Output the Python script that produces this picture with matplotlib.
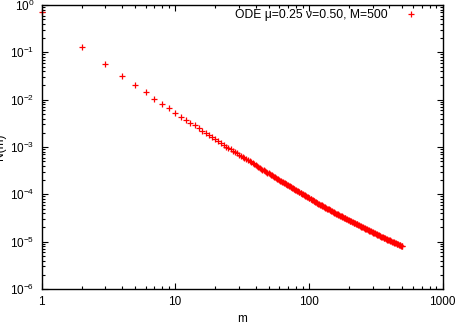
import matplotlib
matplotlib.use("Agg")
import matplotlib.pyplot as plt
from matplotlib.ticker import LogLocator, NullFormatter

plt.rcParams['font.family'] = ['Liberation Sans', 'DejaVu Sans']
plt.rcParams['mathtext.fontset'] = 'custom'
plt.rcParams['mathtext.rm'] = 'Liberation Sans'
plt.rcParams['mathtext.it'] = 'Liberation Sans:italic'

# values (main reading)
m_vals = [1, 2, 3, 4, 5, 6, 7, 8, 9, 10, 11, 12, 13, 14, 15,
          16, 17, 18, 19, 20, 21, 22, 23, 24, 25, 26, 27, 28, 29, 30,
          31, 32, 33, 34, 35, 36, 37, 38, 39, 40, 41, 42, 43, 44, 45,
          46, 47, 48, 49, 50, 51, 52, 53, 54, 55, 56, 57, 58, 59, 60,
          61, 62, 64, 66, 68, 70, 72, 74, 76, 78, 80, 83, 85, 88, 90,
          93, 95, 98, 101, 104, 107, 110, 113, 116, 120, 123, 126, 130, 133, 137,
          141, 145, 149, 153, 157, 162, 166, 171, 176, 181, 186, 191, 196, 202, 207,
          213, 219, 225, 231, 238, 244, 251, 258, 265, 272, 280, 288, 296, 304, 313,
          321, 330, 339, 348, 357, 367, 377, 387, 397, 408, 419, 430, 441, 453, 465,
          477, 488, 500]
N_vals = [0.70, 0.131, 0.0566, 0.0315, 0.0204, 0.0145, 0.0105, 0.0081, 0.0066, 0.0053,
          0.0044, 0.0038, 0.0032, 0.0029, 0.0025,
          2.22e-3, 1.98e-3, 1.77e-3, 1.60e-3, 1.45e-3, 1.32e-3, 1.21e-3, 1.11e-3, 1.02e-3, 9.51e-4,
          8.87e-4, 8.28e-4, 7.76e-4, 7.30e-4, 6.87e-4,
          6.48e-4, 6.12e-4, 5.79e-4, 5.48e-4, 5.21e-4, 4.95e-4, 4.72e-4, 4.50e-4, 4.30e-4, 4.11e-4,
          3.94e-4, 3.77e-4, 3.62e-4, 3.47e-4, 3.34e-4,
          3.21e-4, 3.09e-4, 2.98e-4, 2.87e-4, 2.77e-4, 2.68e-4, 2.59e-4, 2.50e-4, 2.42e-4, 2.34e-4,
          2.27e-4, 2.20e-4, 2.13e-4, 2.07e-4, 2.01e-4,
          1.95e-4, 1.90e-4, 1.80e-4, 1.71e-4, 1.63e-4, 1.55e-4, 1.48e-4, 1.41e-4, 1.35e-4, 1.29e-4,
          1.23e-4, 1.16e-4, 1.11e-4, 1.05e-4, 1.01e-4,
          9.55e-5, 9.20e-5, 8.73e-5, 8.30e-5, 7.89e-5, 7.52e-5, 7.17e-5, 6.86e-5, 6.58e-5, 6.22e-5,
          5.98e-5, 5.75e-5, 5.47e-5, 5.27e-5, 5.02e-5,
          4.80e-5, 4.58e-5, 4.39e-5, 4.20e-5, 4.03e-5, 3.84e-5, 3.71e-5, 3.56e-5, 3.41e-5, 3.27e-5,
          3.15e-5, 3.03e-5, 2.92e-5, 2.79e-5, 2.70e-5,
          2.59e-5, 2.49e-5, 2.39e-5, 2.31e-5, 2.21e-5, 2.13e-5, 2.05e-5, 1.97e-5, 1.89e-5, 1.82e-5,
          1.75e-5, 1.67e-5, 1.61e-5, 1.55e-5, 1.49e-5,
          1.43e-5, 1.38e-5, 1.32e-5, 1.28e-5, 1.24e-5, 1.19e-5, 1.15e-5, 1.11e-5, 1.08e-5, 1.04e-5,
          1.00e-5, 9.70e-6, 9.38e-6, 9.06e-6, 8.75e-6,
          8.47e-6, 8.22e-6, 7.96e-6]

# further values read along the dense part of the curve (m > 62)
m_fill = [63, 65, 67, 69, 71, 73, 75, 77, 79, 82, 84, 87, 89, 92, 94,
          97, 100, 103, 106, 109, 112, 115, 118, 122, 125, 128, 132, 135, 139, 143,
          147, 151, 155, 160, 164, 168, 173, 178, 183, 188, 193, 199, 204, 210, 216,
          222, 228, 234, 241, 247, 254, 261, 268, 276, 284, 292, 300, 308, 317, 325,
          334, 343, 352, 362, 372, 382, 392, 402, 413, 424, 435, 447, 459, 471, 482,
          494]
N_fill = [1.85e-4, 1.75e-4, 1.67e-4, 1.59e-4, 1.51e-4, 1.44e-4, 1.38e-4, 1.32e-4, 1.26e-4, 1.18e-4,
          1.13e-4, 1.07e-4, 1.03e-4, 9.70e-5, 9.37e-5,
          8.88e-5, 8.45e-5, 8.03e-5, 7.64e-5, 7.29e-5, 6.96e-5, 6.67e-5, 6.40e-5, 6.06e-5, 5.82e-5,
          5.61e-5, 5.34e-5, 5.14e-5, 4.91e-5, 4.69e-5,
          4.48e-5, 4.29e-5, 4.11e-5, 3.91e-5, 3.77e-5, 3.65e-5, 3.50e-5, 3.35e-5, 3.22e-5, 3.10e-5,
          2.98e-5, 2.85e-5, 2.75e-5, 2.64e-5, 2.54e-5,
          2.44e-5, 2.35e-5, 2.27e-5, 2.17e-5, 2.09e-5, 2.01e-5, 1.93e-5, 1.85e-5, 1.78e-5, 1.71e-5,
          1.64e-5, 1.58e-5, 1.52e-5, 1.46e-5, 1.40e-5,
          1.35e-5, 1.30e-5, 1.26e-5, 1.21e-5, 1.17e-5, 1.13e-5, 1.10e-5, 1.06e-5, 1.02e-5, 9.85e-6,
          9.54e-6, 9.22e-6, 8.90e-6, 8.61e-6, 8.34e-6,
          8.09e-6]

x_ticks = [1, 10, 100, 1000]
x_ticklabels = ['1', '10', '100', '1000']
series_label = "ODE \u03bc=0.25 \u03bd=0.50, M=500"
x_label = "m"
y_label = "N(m)"

fig = plt.figure(figsize=(4.55, 3.22), dpi=100)
ax = fig.add_axes([41.5/455, 1-289/322, (442.5-41.5)/455, (289-5)/322])

ax.plot(m_vals + m_fill, N_vals + N_fill, linestyle='none', marker='+', color='#ff0000',
        markersize=3.8, markeredgewidth=0.9, label=series_label, clip_on=False)

ax.set_xscale('log')
ax.set_yscale('log')
ax.set_xlim(1, 1000)
ax.set_ylim(1e-6, 1)

ax.yaxis.set_major_locator(LogLocator(base=10, numticks=10))
ax.yaxis.set_minor_locator(LogLocator(base=10, subs=range(2, 10), numticks=20))
ax.yaxis.set_minor_formatter(NullFormatter())
ax.xaxis.set_minor_locator(LogLocator(base=10, subs=range(2, 10), numticks=20))
ax.xaxis.set_minor_formatter(NullFormatter())
ax.set_xticks(x_ticks)
ax.set_xticklabels(x_ticklabels)

ax.tick_params(which='both', direction='in', top=True, right=True,
               labelsize=8.5, colors='black', width=0.8)
ax.tick_params(which='major', length=4.5, pad=5)
ax.tick_params(which='minor', length=2.2)
for s in ax.spines.values():
    s.set_linewidth(1.0)

ax.set_xlabel(x_label, fontsize=8.5, labelpad=4)
ax.set_ylabel(y_label, fontsize=8.5, labelpad=3)

leg = ax.legend(loc='center right', bbox_to_anchor=(0.9516, 0.965),
                frameon=False, markerfirst=False, fontsize=8.7,
                handlelength=2.0, handletextpad=0.9,
                borderaxespad=0.0, borderpad=0.0)

fig.savefig('out.png', dpi=100)
